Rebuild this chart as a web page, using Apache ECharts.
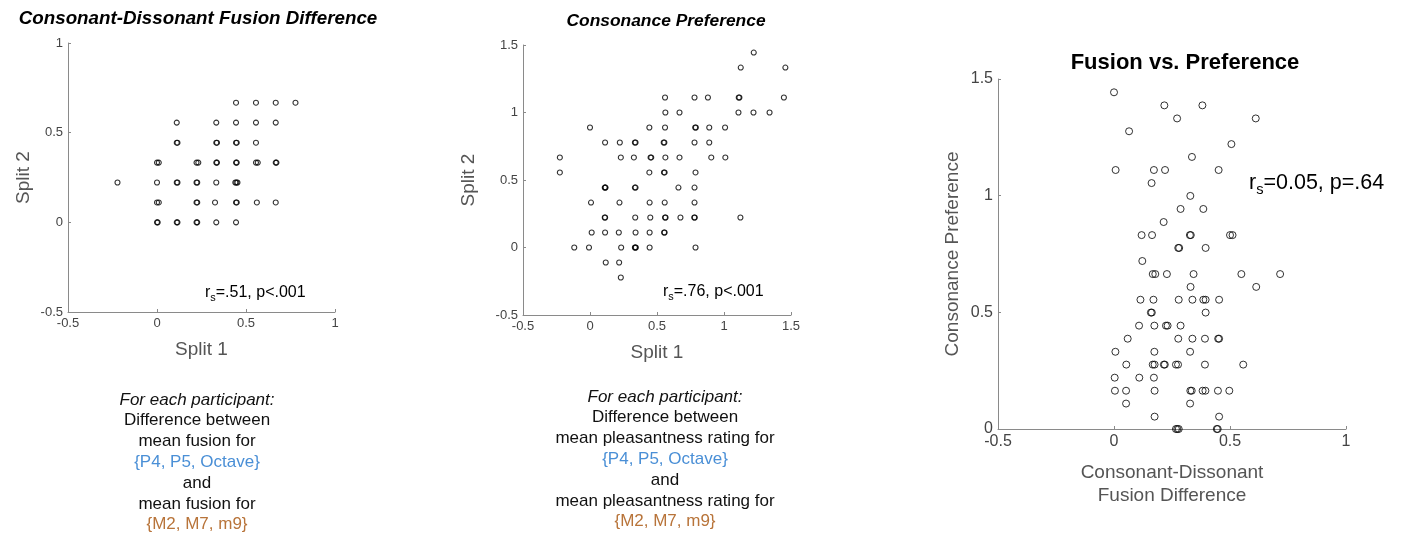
<!DOCTYPE html>
<html>
<head>
<meta charset="utf-8">
<script src="https://cdn.jsdelivr.net/npm/echarts@6/dist/echarts.min.js"></script>
<style>
html,body{margin:0;padding:0;background:#fff;}
#chart{width:1407px;height:533px;}
</style>
</head>
<body>
<div id="chart"></div>
<script>
// ---------- DATA ----------
// Panel 1: Consonant-Dissonant Fusion Difference (split-half)
const fusionSplit1 = [
  0.444,0.556,0.667,0.778,
  0.111,0.333,0.444,0.556,0.667,
  0.111,0.115,0.333,0.337,0.444,0.448,0.556,
  0.0,0.01,0.222,0.232,0.333,0.337,0.444,0.448,0.556,0.566,0.667,0.671,
  -0.222,0.0,0.111,0.115,0.222,0.226,0.333,0.440,0.446,0.452,
  0.0,0.01,0.222,0.226,0.326,0.444,0.448,0.561,0.667,
  0.0,0.004,0.111,0.115,0.222,0.226,0.333,0.444
];
const fusionSplit2 = [
  0.667,0.667,0.667,0.667,
  0.556,0.556,0.556,0.556,0.556,
  0.444,0.444,0.444,0.444,0.444,0.444,0.444,
  0.333,0.333,0.333,0.333,0.333,0.333,0.333,0.333,0.333,0.333,0.333,0.333,
  0.222,0.222,0.222,0.222,0.222,0.222,0.222,0.222,0.222,0.222,
  0.111,0.111,0.111,0.111,0.111,0.111,0.111,0.111,0.111,
  0.0,0.0,0.0,0.0,0.0,0.0,0.0,0.0
];

// Panel 2: Consonance Preference (split-half)
const prefSplit1 = [
  1.222,
  1.125,1.458,
  0.56,0.78,0.88,1.11,1.115,1.447,
  0.5625,0.668,1.108,1.22,1.34,
  0.0,0.443,0.56,0.785,0.79,0.89,1.008,
  0.1125,0.2225,0.335,0.34,0.55,0.555,0.78,0.89,
  -0.225,0.23,0.3275,0.452,0.457,0.5625,0.668,0.905,1.01,
  -0.225,0.443,0.552,0.557,0.7875,
  0.11,0.113,0.116,0.335,0.34,0.66,0.78,
  0.0075,0.22,0.445,0.5575,0.78,
  0.11,0.113,0.3375,0.45,0.56,0.564,0.675,0.778,0.782,1.1225,
  0.0125,0.1125,0.215,0.34,0.445,0.553,0.557,
  -0.1175,-0.0075,0.2325,0.335,0.338,0.342,0.445,0.7875,
  0.1175,0.2175,
  0.23
];
const prefSplit2 = [
  1.444,
  1.333,1.333,
  1.111,1.111,1.111,1.111,1.111,1.111,
  1.0,1.0,1.0,1.0,1.0,
  0.889,0.889,0.889,0.889,0.889,0.889,0.889,
  0.778,0.778,0.778,0.778,0.778,0.778,0.778,0.778,
  0.667,0.667,0.667,0.667,0.667,0.667,0.667,0.667,0.667,
  0.556,0.556,0.556,0.556,0.556,
  0.444,0.444,0.444,0.444,0.444,0.444,0.444,
  0.333,0.333,0.333,0.333,0.333,
  0.222,0.222,0.222,0.222,0.222,0.222,0.222,0.222,0.222,0.222,
  0.111,0.111,0.111,0.111,0.111,0.111,0.111,
  0.0,0.0,0.0,0.0,0.0,0.0,0.0,0.0,
  -0.111,-0.111,
  -0.222
];

// Panel 3: Fusion difference vs. consonance preference (per participant)
const fusionDiff = [
  0.0,
  0.217,0.381,
  0.272,0.611,
  0.065,
  0.506,
  0.336,
  0.007,0.172,0.22,0.451,
  0.162,
  0.329,
  0.287,0.385,
  0.214,
  0.119,0.164,0.327,0.331,0.5,0.511,
  0.277,0.281,0.395,
  0.122,
  0.167,0.178,0.228,0.343,0.549,0.716,
  0.33,0.613,
  0.114,0.17,0.279,0.338,0.385,0.395,0.453,
  0.159,0.163,0.395,
  0.108,0.174,0.224,0.231,0.287,
  0.059,0.277,0.338,0.392,0.449,0.453,
  0.006,0.174,0.328,
  0.053,0.167,0.175,0.215,0.219,0.267,0.276,0.392,0.557,
  0.003,0.109,0.172,
  0.004,0.052,0.175,0.329,0.335,0.382,0.394,0.448,0.497,
  0.052,0.328,
  0.175,0.453,
  0.267,0.273,0.279,0.443,0.447
];
const consPref = [
  1.443,
  1.387,1.387,
  1.331,1.331,
  1.276,
  1.221,
  1.166,
  1.11,1.11,1.11,1.11,
  1.054,
  0.999,
  0.943,0.943,
  0.887,
  0.831,0.831,0.831,0.831,0.831,0.831,
  0.776,0.776,0.776,
  0.72,
  0.664,0.664,0.664,0.664,0.664,0.664,
  0.609,0.609,
  0.554,0.554,0.554,0.554,0.554,0.554,0.554,
  0.499,0.499,0.499,
  0.443,0.443,0.443,0.443,0.443,
  0.387,0.387,0.387,0.387,0.387,0.387,
  0.331,0.331,0.331,
  0.276,0.276,0.276,0.276,0.276,0.276,0.276,0.276,0.276,
  0.22,0.22,0.22,
  0.164,0.164,0.164,0.164,0.164,0.164,0.164,0.164,0.164,
  0.109,0.109,
  0.053,0.053,
  0.0,0.0,0.0,0.0,0.0
];

const ticks1 = {min:-0.5, max:1, interval:0.5};
const ticks2 = {min:-0.5, max:1.5, interval:0.5};
const ticks3x = {min:-0.5, max:1, interval:0.5};
const ticks3y = {min:0, max:1.5, interval:0.5};

const noteLines1 = ['For each participant:', 'Difference between', 'mean fusion for', '{P4, P5, Octave}', 'and', 'mean fusion for', '{M2, M7, m9}'];
const noteLines2 = ['For each participant:', 'Difference between', 'mean pleasantness rating for', '{P4, P5, Octave}', 'and', 'mean pleasantness rating for', '{M2, M7, m9}'];

// ---------- STYLE ----------
const FONT = '"Liberation Sans", Helvetica, Arial, sans-serif';
const AX = '#8a8a8a';
const LBL = '#444';
const NAME = '#555';
const BLUE = '#4a8fd6';
const ORANGE = '#b8743a';

function zip(a, b) { return a.map((v, i) => [v, b[i]]); }

function axis(gi, t, type, fs, name, gap, extra) {
  return Object.assign({
    type: 'value', gridIndex: gi, min: t.min, max: t.max, interval: t.interval,
    name: name, nameLocation: 'middle', nameGap: gap,
    nameTextStyle: {fontFamily: FONT, fontSize: 19, color: NAME},
    axisLine: {show: true, onZero: false, lineStyle: {color: AX, width: 1}},
    axisTick: {show: true, inside: true, length: 3, lineStyle: {color: AX}},
    axisLabel: {fontFamily: FONT, fontSize: fs, color: LBL, margin: 5},
    splitLine: {show: false}
  }, extra || {});
}

function noteGraphics(lines, cx, y0, dy) {
  return lines.map((s, i) => ({
    type: 'text', x: cx, y: y0 + i * dy,
    style: {
      text: s, fontFamily: FONT, fontSize: 17,
      fontStyle: i === 0 ? 'italic' : 'normal',
      fill: i === 3 ? BLUE : (i === 6 ? ORANGE : '#111'),
      align: 'center', verticalAlign: 'middle', textAlign: 'center', textVerticalAlign: 'middle'
    }
  }));
}

function statText(x, y, fs, body) {
  return {
    type: 'text', x: x, y: y,
    style: {
      text: '{r|r}{s|s}{r|' + body + '}',
      align: 'left', verticalAlign: 'middle', textAlign: 'left', textVerticalAlign: 'middle',
      rich: {
        r: {fontFamily: FONT, fontSize: fs, color: '#111', lineHeight: fs * 1.3, verticalAlign: 'middle'},
        s: {fontFamily: FONT, fontSize: fs * 0.68, color: '#111', lineHeight: fs * 1.3, verticalAlign: 'bottom'}
      }
    }
  };
}

function titleText(x, y, s, fs, italic) {
  return {
    type: 'text', x: x, y: y,
    style: {
      text: s, fontFamily: FONT, fontSize: fs, fontWeight: 'bold', fontStyle: italic ? 'italic' : 'normal',
      fill: '#000', align: 'center', verticalAlign: 'middle', textAlign: 'center', textVerticalAlign: 'middle'
    }
  };
}

const chart = echarts.init(document.getElementById('chart'), null, {renderer: 'canvas'});
const option = {
  backgroundColor: '#fff',
  animation: false,
  grid: [
    {left: 68, top: 43, width: 267, height: 269, containLabel: false},
    {left: 523, top: 45, width: 268, height: 270, containLabel: false},
    {left: 998, top: 79, width: 348, height: 350, containLabel: false}
  ],
  xAxis: [
    axis(0, ticks1, 'x', 13, 'Split 1', 28),
    axis(1, ticks2, 'x', 13, 'Split 1', 28),
    axis(2, ticks3x, 'x', 16, 'Consonant-Dissonant\nFusion Difference', 32,
      {nameTextStyle: {fontFamily: FONT, fontSize: 19, color: NAME, lineHeight: 23}})
  ],
  yAxis: [
    axis(0, ticks1, 'y', 13, 'Split 2', 35),
    axis(1, ticks2, 'y', 13, 'Split 2', 45),
    axis(2, ticks3y, 'y', 16, 'Consonance Preference', 36)
  ],
  series: [
    {type: 'scatter', xAxisIndex: 0, yAxisIndex: 0, data: zip(fusionSplit1, fusionSplit2),
      symbol: 'circle', symbolSize: 5, itemStyle: {color: 'rgba(0,0,0,0)', borderColor: '#000', borderWidth: 1.1}},
    {type: 'scatter', xAxisIndex: 1, yAxisIndex: 1, data: zip(prefSplit1, prefSplit2),
      symbol: 'circle', symbolSize: 5, itemStyle: {color: 'rgba(0,0,0,0)', borderColor: '#000', borderWidth: 1.1}},
    {type: 'scatter', xAxisIndex: 2, yAxisIndex: 2, data: zip(fusionDiff, consPref),
      symbol: 'circle', symbolSize: 7, itemStyle: {color: 'rgba(0,0,0,0)', borderColor: '#000', borderWidth: 1}}
  ],
  graphic: [
    titleText(198, 19, 'Consonant-Dissonant Fusion Difference', 18.8, true),
    titleText(666, 21, 'Consonance Preference', 17.4, true),
    titleText(1185, 63, 'Fusion vs. Preference', 22, false),
    statText(205, 293, 16, '=.51, p<.001'),
    statText(663, 292, 16, '=.76, p<.001'),
    statText(1249, 183, 21.5, '=0.05, p=.64')
  ].concat(noteGraphics(noteLines1, 197, 400, 20.8))
   .concat(noteGraphics(noteLines2, 665, 397, 20.8))
};
chart.setOption(option);
</script>
</body>
</html>
